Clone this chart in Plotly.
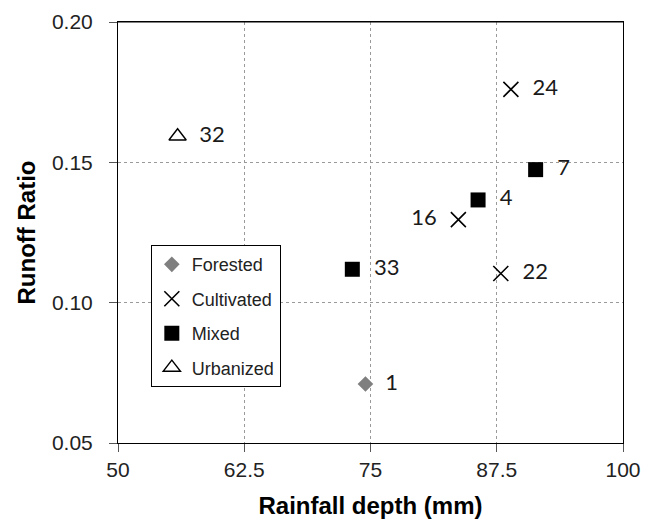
import plotly.graph_objects as go

# land-use classes and catchment points (rainfall depth mm, runoff ratio, catchment id)
forested_x = [74.5]
forested_y = [0.071]
forested_id = ["1"]

cultivated_x = [88.9, 83.7, 87.9]
cultivated_y = [0.176, 0.1296, 0.1104]
cultivated_id = ["24", "16", "22"]

mixed_x = [91.35, 85.65, 73.2]
mixed_y = [0.1474, 0.1366, 0.1119]
mixed_id = ["7", "4", "33"]

urban_x = [55.9]
urban_y = [0.1593]
urban_id = ["32"]

x_ticks = [50, 62.5, 75, 87.5, 100]
x_ticklabels = ["50", "62.5", "75", "87.5", "100"]
y_ticks = [0.05, 0.10, 0.15, 0.20]
y_ticklabels = ["0.05", "0.10", "0.15", "0.20"]

label_font = dict(family="Lato, Open Sans, sans-serif", size=22, color="#1a1a1a")
arial = "Liberation Sans, Arial, sans-serif"

fig = go.Figure()

fig.add_trace(go.Scatter(
    x=forested_x, y=forested_y, text=["  " + t for t in forested_id],
    mode="markers+text", textposition="middle right", textfont=label_font,
    name="Forested", legendgroup="f",
    marker=dict(symbol="diamond", size=12, color="#7f7f7f"),
))
fig.add_trace(go.Scatter(
    x=cultivated_x, y=cultivated_y,
    text=["  " + cultivated_id[0], cultivated_id[1] + "  ", "  " + cultivated_id[2]],
    mode="markers+text", textposition=["middle right", "middle left", "middle right"],
    textfont=label_font,
    name="Cultivated", legendgroup="c",
    marker=dict(symbol="x-thin-open", size=15, color="black", line=dict(width=1.6, color="black")),
))
fig.add_trace(go.Scatter(
    x=mixed_x, y=mixed_y, text=["  " + t for t in mixed_id],
    mode="markers+text", textposition="middle right", textfont=label_font,
    name="Mixed", legendgroup="m",
    marker=dict(symbol="square", size=15, color="black"),
))
fig.add_trace(go.Scatter(
    x=urban_x, y=urban_y, text=["  " + t for t in urban_id],
    mode="markers+text", textposition="middle right", textfont=label_font,
    name="Urbanized", legendgroup="u",
    marker=dict(symbol="triangle-up-open", size=15, color="black", line=dict(width=1.4, color="black")),
))

axis_common = dict(
    showline=True, linecolor="black", linewidth=1, mirror=True,
    ticks="outside", ticklen=8, tickcolor="#555555",
    showgrid=True, gridcolor="#9a9a9a", griddash="3px,3px", gridwidth=1,
    zeroline=False, automargin=False, ticklabeloverflow="allow",
    tickfont=dict(family=arial, size=21, color="#222222"),
    title_font=dict(family=arial, size=24, color="black"),
)

fig.update_xaxes(
    range=[50, 100], tickvals=x_ticks, ticktext=x_ticklabels,
    ticklabelstandoff=0,
    title_text="<b>Rainfall depth (mm)</b>", title_standoff=16, **axis_common,
)
fig.update_yaxes(
    range=[0.05, 0.20], tickvals=y_ticks, ticktext=y_ticklabels,
    ticklabelstandoff=12,
    title_text="<b>Runoff Ratio</b>", title_standoff=9, **axis_common,
)

# frame line along the top edge of the plot area
fig.add_shape(type="line", xref="paper", yref="paper", x0=0, x1=1, y0=1, y1=1,
              line=dict(color="black", width=1))

fig.update_layout(
    width=655, height=527,
    margin=dict(l=110, r=40, t=14, b=92, autoexpand=False),
    plot_bgcolor="white", paper_bgcolor="white",
    showlegend=True,
    legend=dict(
        x=0.065, y=0.47, xanchor="left", yanchor="top",
        bgcolor="white", bordercolor="black", borderwidth=1,
        font=dict(family=arial, size=18, color="#222222"),
        itemwidth=30, tracegroupgap=8,
    ),
)

fig.write_html("out.html")
